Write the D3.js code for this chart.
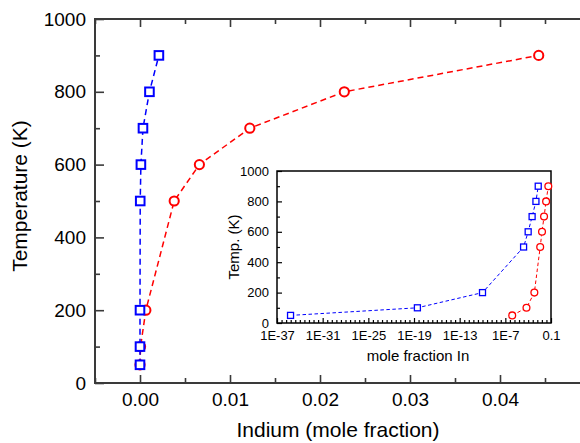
<!DOCTYPE html>
<html><head><meta charset="utf-8">
<script src="https://cdn.jsdelivr.net/npm/d3@7"></script>
<style>
html,body{margin:0;padding:0;background:#fff;}
svg{display:block;font-family:Arial,"Liberation Sans",sans-serif;}
</style></head>
<body>
<svg id="c" width="580" height="443"></svg>
<script>
// ---- data ----
const temps = [50, 100, 200, 500, 600, 700, 800, 900];
const blueX = [6e-36, 2.8e-19, 1e-10, 2.5e-5, 1e-4, 3.3e-4, 1.05e-3, 2.1e-3];
const redX  = [8e-7, 6e-5, 6.5e-4, 3.8e-3, 6.6e-3, 1.22e-2, 2.27e-2, 4.43e-2];
const mainXTicks = [0.00, 0.01, 0.02, 0.03, 0.04];
const mainYTicks = [0, 200, 400, 600, 800, 1000];
const insetXTicks = [1e-37, 1e-31, 1e-25, 1e-19, 1e-13, 1e-7, 0.1];
const insetXLabels = ["1E-37", "1E-31", "1E-25", "1E-19", "1E-13", "1E-7", "0.1"];
const insetYTicks = [0, 200, 400, 600, 800, 1000];

const blueData = temps.map((t, i) => ({x: blueX[i], y: t}));
const redData = temps.map((t, i) => ({x: redX[i], y: t}));

const svg = d3.select("#c");
const BLUE = "#0000ff", RED = "#ff0000", AX = "#3a3a3a";
const FONT = "Arial, 'Liberation Sans', sans-serif";

// ---- main plot ----
const x = d3.scaleLinear().domain([-0.005, 0.05]).range([95, 590]);
const y = d3.scaleLinear().domain([0, 1000]).range([383, 19]);
const main = svg.append("g");

function styleAxis(g, col, fs) {
  g.attr("font-size", fs).attr("font-family", FONT);
  g.select(".domain").remove();
  g.selectAll("line").attr("stroke", col).attr("stroke-width", 1.6);
  g.selectAll("text").attr("fill", "#000");
}

const xMinor = d3.range(-0.005, 0.0501, 0.005).filter(v => !mainXTicks.some(t => Math.abs(t - v) < 1e-9));
const yMinor = d3.range(100, 1000, 200);

main.append("g").attr("transform", "translate(0,383)")
  .call(d3.axisBottom(x).tickValues(mainXTicks).tickSize(-8).tickPadding(10).tickFormat(d3.format(".2f")))
  .call(g => styleAxis(g, AX, 19));
main.append("g").attr("transform", "translate(0,383)")
  .call(d3.axisBottom(x).tickValues(xMinor).tickSize(-5).tickFormat(""))
  .call(g => styleAxis(g, AX, 19));
main.append("g").attr("transform", "translate(0,19)")
  .call(d3.axisTop(x).tickValues(mainXTicks).tickSize(-8).tickFormat(""))
  .call(g => styleAxis(g, AX, 19));
main.append("g").attr("transform", "translate(0,19)")
  .call(d3.axisTop(x).tickValues(xMinor).tickSize(-5).tickFormat(""))
  .call(g => styleAxis(g, AX, 19));
main.append("g").attr("transform", "translate(95,0)")
  .call(d3.axisLeft(y).tickValues(mainYTicks).tickSize(-9).tickPadding(9).tickFormat(d3.format("d")))
  .call(g => styleAxis(g, AX, 19));
main.append("g").attr("transform", "translate(95,0)")
  .call(d3.axisLeft(y).tickValues(yMinor).tickSize(-5).tickFormat(""))
  .call(g => styleAxis(g, AX, 19));
main.append("rect").attr("x", 95).attr("y", 19).attr("width", 590 - 95).attr("height", 383 - 19)
  .attr("fill", "none").attr("stroke", AX).attr("stroke-width", 2);

svg.append("text").attr("x", 338).attr("y", 437).attr("text-anchor", "middle")
  .attr("font-family", FONT).attr("font-size", 21).text("Indium (mole fraction)");
svg.append("text").attr("transform", "translate(27,196) rotate(-90)").attr("text-anchor", "middle")
  .attr("font-family", FONT).attr("font-size", 21).text("Temperature (K)");

const lineMain = d3.line().x(d => x(d.x)).y(d => y(d.y));
main.append("path").datum(redData).attr("d", lineMain).attr("fill", "none")
  .attr("stroke", RED).attr("stroke-width", 1.5).attr("stroke-dasharray", "6,4");
main.selectAll("circle.r").data(redData).join("circle").attr("class", "r")
  .attr("cx", d => x(d.x)).attr("cy", d => y(d.y)).attr("r", 4.6)
  .attr("fill", "#fff").attr("stroke", RED).attr("stroke-width", 2);
main.append("path").datum(blueData).attr("d", lineMain).attr("fill", "none")
  .attr("stroke", BLUE).attr("stroke-width", 1.5).attr("stroke-dasharray", "6,4");
main.selectAll("rect.b").data(blueData).join("rect").attr("class", "b")
  .attr("x", d => x(d.x) - 4.3).attr("y", d => y(d.y) - 4.3).attr("width", 8.6).attr("height", 8.6)
  .attr("fill", "#fff").attr("stroke", BLUE).attr("stroke-width", 2);

// ---- inset ----
const ix = d3.scaleLog().domain([1e-37, 0.1]).range([277, 551]);
const iy = d3.scaleLinear().domain([0, 1000]).range([323, 171]);
const ins = svg.append("g");
ins.append("rect").attr("x", 277).attr("y", 171).attr("width", 551 - 277).attr("height", 323 - 171)
  .attr("fill", "#fff");

const ixMinor = d3.range(0, 36.01, 0.6).map(k => Math.pow(10, -37 + k))
  .filter(v => !insetXTicks.some(t => Math.abs(Math.log10(t) - Math.log10(v)) < 1e-6));
const iyMinor = d3.range(100, 1000, 200);

ins.append("g").attr("transform", "translate(0,323)")
  .call(d3.axisBottom(ix).tickValues(insetXTicks).tickSize(-5).tickPadding(8)
    .tickFormat((d, i) => insetXLabels[i]))
  .call(g => styleAxis(g, "#000", 13));
ins.append("g").attr("transform", "translate(0,323)")
  .call(d3.axisBottom(ix).tickValues(ixMinor).tickSize(-3).tickFormat(""))
  .call(g => styleAxis(g, "#000", 13));
ins.append("g").attr("transform", "translate(277,0)")
  .call(d3.axisLeft(iy).tickValues(insetYTicks).tickSize(-5).tickPadding(8).tickFormat(d3.format("d")))
  .call(g => styleAxis(g, "#000", 13));
ins.append("g").attr("transform", "translate(277,0)")
  .call(d3.axisLeft(iy).tickValues(iyMinor).tickSize(-3).tickFormat(""))
  .call(g => styleAxis(g, "#000", 13));
ins.selectAll("line").attr("stroke-width", 1.2);
ins.append("rect").attr("x", 277).attr("y", 171).attr("width", 551 - 277).attr("height", 323 - 171)
  .attr("fill", "none").attr("stroke", "#000").attr("stroke-width", 1.5);

svg.append("text").attr("x", 418).attr("y", 361).attr("text-anchor", "middle")
  .attr("font-family", FONT).attr("font-size", 15).text("mole fraction In");
svg.append("text").attr("transform", "translate(239,247) rotate(-90)").attr("text-anchor", "middle")
  .attr("font-family", FONT).attr("font-size", 15).text("Temp. (K)");

const lineIns = d3.line().x(d => ix(d.x)).y(d => iy(d.y));
ins.append("path").datum(redData).attr("d", lineIns).attr("fill", "none")
  .attr("stroke", RED).attr("stroke-width", 1).attr("stroke-dasharray", "3.5,2.5");
ins.selectAll("circle.r").data(redData).join("circle").attr("class", "r")
  .attr("cx", d => ix(d.x)).attr("cy", d => iy(d.y)).attr("r", 3.4)
  .attr("fill", "#fff").attr("stroke", RED).attr("stroke-width", 1.3);
ins.append("path").datum(blueData).attr("d", lineIns).attr("fill", "none")
  .attr("stroke", BLUE).attr("stroke-width", 1).attr("stroke-dasharray", "3.5,2.5");
ins.selectAll("rect.b").data(blueData).join("rect").attr("class", "b")
  .attr("x", d => ix(d.x) - 3).attr("y", d => iy(d.y) - 3).attr("width", 6).attr("height", 6)
  .attr("fill", "#fff").attr("stroke", BLUE).attr("stroke-width", 1.3);
</script>
</body></html>
